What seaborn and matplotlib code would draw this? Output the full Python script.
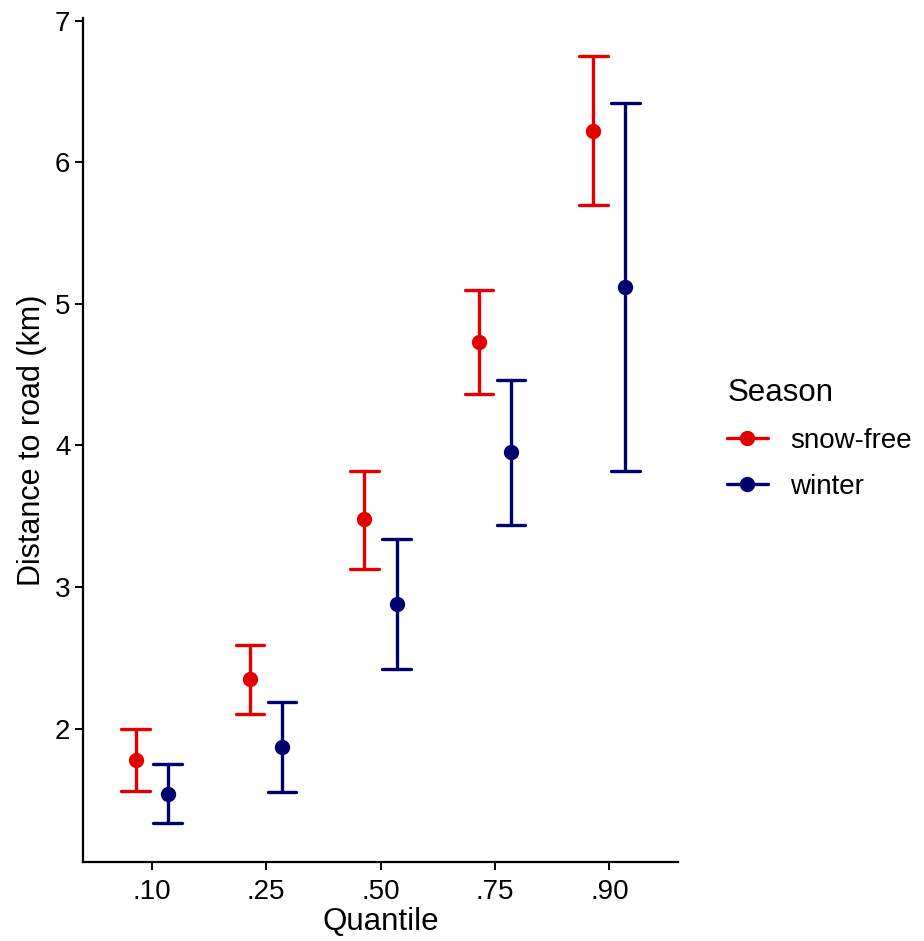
import pandas as pd
import matplotlib.pyplot as plt
import seaborn as sns

# values (km)
quantiles = [".10", ".25", ".50", ".75", ".90"]
seasons = ["snow-free", "winter"]
snowfree_mid = [1.78, 2.35, 3.48, 4.73, 6.22]
snowfree_low = [1.56, 2.10, 3.13, 4.36, 5.70]
snowfree_high = [2.00, 2.59, 3.82, 5.10, 6.75]
winter_mid = [1.54, 1.87, 2.88, 3.95, 5.12]
winter_low = [1.33, 1.55, 2.42, 3.44, 3.82]
winter_high = [1.75, 2.19, 3.34, 4.46, 6.42]
colors = {"snow-free": "#E50000", "winter": "#00006E"}

# long table: median of (low, mid, high) is mid, full range gives the bar
rows = []
for season, lo, mid, hi in [("snow-free", snowfree_low, snowfree_mid, snowfree_high),
                            ("winter", winter_low, winter_mid, winter_high)]:
    for q, a, b, c in zip(quantiles, lo, mid, hi):
        for v in (a, b, c):
            rows.append({"Quantile": q, "Season": season, "dist": v})
df = pd.DataFrame(rows)

sns.set_theme(style="ticks")
plt.rcParams["font.family"] = ["Liberation Sans", "DejaVu Sans"]

fig = plt.figure(figsize=(9.24, 9.41), dpi=100)
ax = fig.add_axes([0.0898, 0.084, 0.644, 0.897])

sns.pointplot(data=df, x="Quantile", y="dist", hue="Season",
              order=quantiles, hue_order=seasons, palette=colors,
              estimator="median", errorbar=("pi", 100),
              dodge=0.28, linestyle="none", capsize=0.25,
              markersize=9, err_kws={"linewidth": 2.4}, ax=ax)

ax.set_xlim(-0.6, 4.6)
ax.set_ylim(1.058, 7.019)
ax.set_yticks([2, 3, 4, 5, 6, 7])
ax.set_xlabel("Quantile", fontsize=22.5, color="black", labelpad=2)
ax.set_ylabel("Distance to road (km)", fontsize=22, color="black", labelpad=6)
ax.tick_params(labelsize=20, colors="black", length=6, width=1.4, pad=3)
ax.tick_params(axis="x", pad=6)
for side in ["top", "right"]:
    ax.spines[side].set_visible(False)
for side in ["left", "bottom"]:
    ax.spines[side].set_linewidth(1.6)
    ax.spines[side].set_color("black")

handles, labels = ax.get_legend_handles_labels()
for h in handles:
    h.set_linestyle("-")
    h.set_linewidth(2.4)
leg = ax.legend(handles, labels, title="Season", frameon=False,
                loc="center left", bbox_to_anchor=(0.76, 0.534),
                bbox_transform=fig.transFigure,
                fontsize=20, title_fontsize=22.5, handlelength=1.45,
                handletextpad=0.8, labelspacing=0.72, alignment="left")
leg.get_title().set_color("black")
for t in leg.get_texts():
    t.set_color("black")

fig.savefig("out.png", dpi=100)
